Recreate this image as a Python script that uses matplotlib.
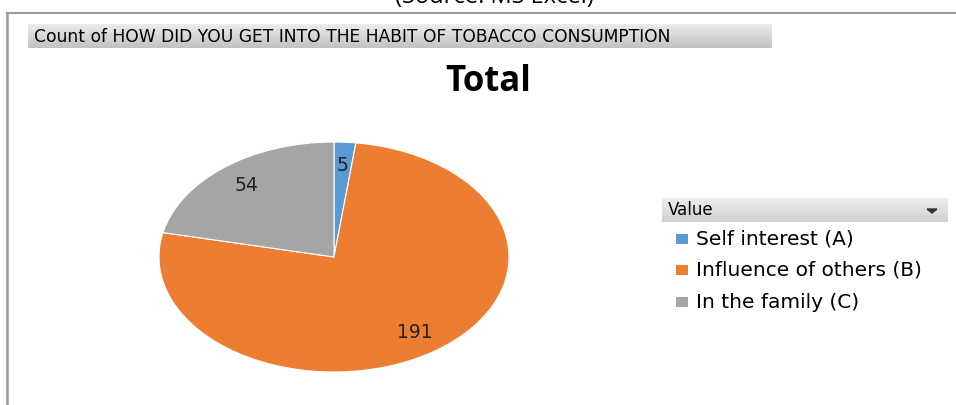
import numpy as np
import matplotlib
matplotlib.use("Agg")
import matplotlib.pyplot as plt
from matplotlib.patches import Rectangle, Polygon
from matplotlib.lines import Line2D

categories = ["Self interest (A)", "Influence of others (B)", "In the family (C)"]
values = [5, 191, 54]
colors = ["#5B9BD5", "#ED7D31", "#A5A5A5"]
header_text = "Count of HOW DID YOU GET INTO THE HABIT OF TOBACCO CONSUMPTION"
title_text = "Total"
source_text = "(Source: MS Excel)"
legend_title = "Value"

W, H = 956, 405
fig = plt.figure(figsize=(W / 100, H / 100), dpi=100)
fig.patch.set_facecolor("white")

def fx(x):
    return x / W

def fy(y):
    return 1 - y / H

# border lines
fig.add_artist(Line2D([fx(7), fx(7)], [fy(13), fy(405)], color="#9a9a9a", lw=1.8))
fig.add_artist(Line2D([fx(7), fx(956)], [fy(13), fy(13)], color="#9a9a9a", lw=1.5))

# cut-off source text (partly off the top edge, as in the reference)
fig.text(fx(494), fy(3), source_text, ha="center", va="baseline",
         fontsize=17, family="Open Sans", color="black")

def gradient_bar(x0, y0, x1, y1, top="#f2f2f2", bottom="#c4c4c4"):
    ax = fig.add_axes([fx(x0), fy(y1), fx(x1 - x0), (y1 - y0) / H])
    c0 = np.array(matplotlib.colors.to_rgb(top))
    c1 = np.array(matplotlib.colors.to_rgb(bottom))
    t = np.linspace(0, 1, 50)[:, None]
    img = (c0 * (1 - t) + c1 * t)[:, None, :]
    ax.imshow(img, aspect="auto", extent=[0, 1, 0, 1])
    ax.set_axis_off()
    return ax

# header bar
gradient_bar(28, 24, 772, 48, top="#ececec", bottom="#c2c2c2")
fig.text(fx(34), fy(36.5), header_text, ha="left", va="center",
         fontsize=12.3, family="DejaVu Sans", color="black")

# title
fig.text(fx(488), fy(82), title_text, ha="center", va="center",
         fontsize=25, fontweight="bold", family="Open Sans", color="black")

# pie
pax = fig.add_axes([fx(159), fy(372), fx(350), 230 / H])
total = sum(values)
wedges, texts, autotexts = pax.pie(
    values, colors=colors, startangle=90, counterclock=False,
    autopct=lambda p: f"{round(p * total / 100):d}", pctdistance=0.8,
    wedgeprops=dict(linewidth=0.8, edgecolor="white"),
    textprops=dict(fontsize=13.5, family="DejaVu Sans", color="#222222"))
pax.set_aspect("auto")
pax.set_xlim(-1.0, 1.0)
pax.set_ylim(-1.0, 1.0)

# legend header
gradient_bar(662, 198, 948, 222, top="#eeeeee", bottom="#d0d0d0")
fig.text(fx(668), fy(210.5), legend_title, ha="left", va="center",
         fontsize=12, family="DejaVu Sans", color="black")
fig.add_artist(Polygon([[fx(927), fy(209)], [fx(937), fy(209)], [fx(932), fy(213)]],
                       closed=True, color="#333333", transform=fig.transFigure))

rows = [239, 270, 302]
for cat, col, ry in zip(categories, colors, rows):
    fig.add_artist(Rectangle((fx(676), fy(ry + 5)), fx(12), 10 / H,
                             facecolor=col, edgecolor="none", transform=fig.transFigure))
    fig.text(fx(696), fy(ry), cat, ha="left", va="center",
             fontsize=14.5, family="DejaVu Sans", color="black")

fig.savefig("out.png", dpi=100, facecolor="white")
